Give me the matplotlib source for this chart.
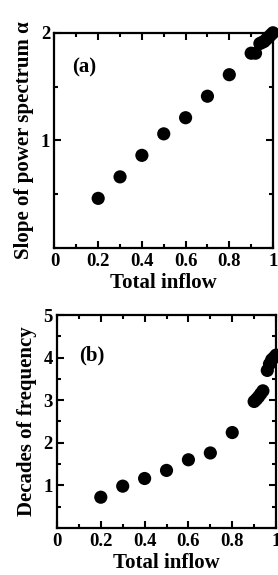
import numpy as np
import matplotlib.pyplot as plt
from matplotlib.ticker import MultipleLocator

# panel (a): slope of power spectrum vs total inflow
inflow_a = [0.2, 0.3, 0.4, 0.5, 0.6, 0.7, 0.8, 0.9, 0.92, 0.94, 0.95, 0.96, 0.97, 0.98, 0.99, 1.0]
slope_a = [0.46, 0.66, 0.86, 1.06, 1.21, 1.41, 1.61, 1.81, 1.81, 1.90, 1.91, 1.92, 1.94, 1.96, 1.98, 2.0]

# panel (b): decades of frequency vs total inflow
inflow_b = [0.2, 0.3, 0.4, 0.5, 0.6, 0.7, 0.8, 0.9, 0.91, 0.92, 0.93, 0.94, 0.96, 0.97, 0.98, 0.99, 1.0]
decades_b = [0.72, 0.98, 1.16, 1.35, 1.6, 1.76, 2.24, 2.97, 3.02, 3.08, 3.15, 3.22, 3.70, 3.85, 3.95, 4.0, 4.06]

xticks = [0, 0.2, 0.4, 0.6, 0.8, 1]
xticklabels = ["0", "0.2", "0.4", "0.6", "0.8", "1"]

plt.rcParams['font.family'] = ['Liberation Serif', 'DejaVu Serif']
plt.rcParams['font.weight'] = 'bold'

fig = plt.figure(figsize=(2.78, 5.75), dpi=100)
axA = fig.add_axes([0.196, 0.569, 0.786, 0.374])
axB = fig.add_axes([0.205, 0.082, 0.788, 0.370])


def style(ax, ymax, yticks, ylabel, tag, tagpos):
    ax.set_xlim(0, 1)
    ax.set_ylim(0, ymax)
    ax.set_xticks(xticks)
    ax.set_xticklabels(xticklabels)
    ax.set_yticks(yticks)
    ax.set_yticklabels([str(t) for t in yticks])
    ax.xaxis.set_minor_locator(MultipleLocator(0.1))
    ax.yaxis.set_minor_locator(MultipleLocator(0.5))
    ax.tick_params(which='both', direction='in', top=True, right=True,
                   width=1.5, labelsize=13.5, pad=4)
    ax.tick_params(axis='y', pad=3)
    ax.tick_params(which='major', length=5)
    ax.tick_params(which='minor', length=3)
    for sp in ax.spines.values():
        sp.set_linewidth(1.6)
    ax.set_xlabel("Total inflow", fontsize=15, fontweight='bold', labelpad=2)
    ax.set_ylabel(ylabel, fontsize=15, fontweight='bold', labelpad=5)
    ax.text(tagpos[0], tagpos[1], tag, transform=ax.transAxes, fontsize=15,
            fontweight='bold', va='center', ha='left')


axA.scatter(inflow_a, slope_a, s=90, color='black', edgecolors='none', clip_on=False, zorder=3)
style(axA, 2, [1, 2], "Slope of power spectrum α", "(a)", (0.08, 0.84))

axB.scatter(inflow_b, decades_b, s=90, color='black', edgecolors='none', clip_on=False, zorder=3)
style(axB, 5, [1, 2, 3, 4, 5], "Decades of frequency", "(b)", (0.10, 0.81))

fig.savefig("out.png", dpi=100)
